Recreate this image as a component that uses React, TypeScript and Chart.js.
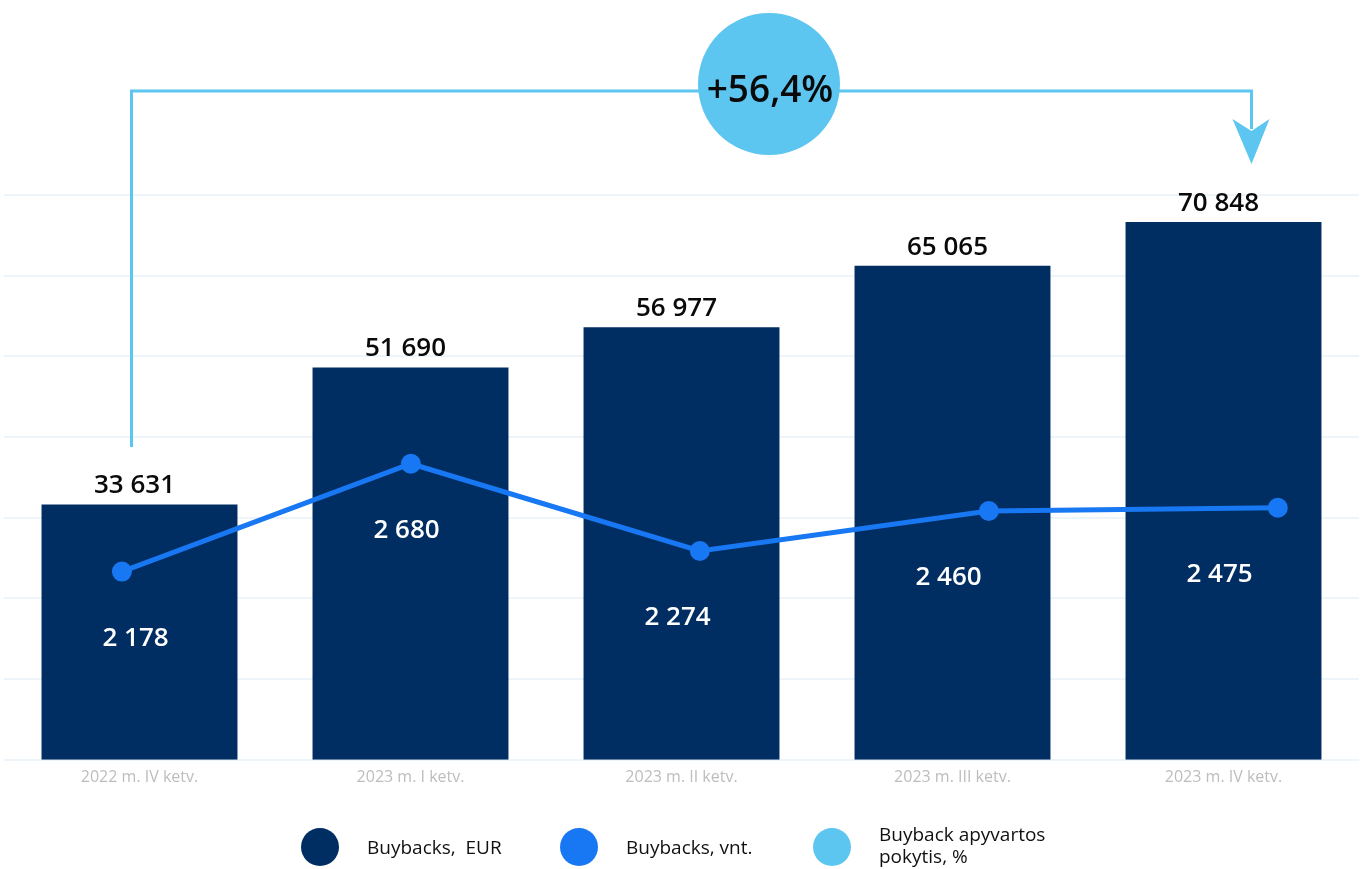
import React, { useEffect, useRef } from "react";
import { Chart, registerables } from "chart.js";

Chart.register(...registerables);

// ---- data ----
const categories = [
  "2022 m. IV ketv.",
  "2023 m. I ketv.",
  "2023 m. II ketv.",
  "2023 m. III ketv.",
  "2023 m. IV ketv.",
];
const buybacksEur = [33631, 51690, 56977, 65065, 70848];
const buybacksVnt = [2178, 2680, 2274, 2460, 2475];
const changeLabel = "+56,4%";
const legendEur = "Buybacks,  EUR";
const legendVnt = "Buybacks, vnt.";
const legendChange = ["Buyback apyvartos", "pokytis, %"];

// ---- styles ----
const NAVY = "#002D62";
const BLUE = "#1877F2";
const SKY = "#5CC5F0";
const GRID = "#EDF4FA";
const FONT = '"Open Sans", "Noto Sans", sans-serif';

const fmt = (v: number) => String(v).replace(/\B(?=(\d{3})+(?!\d))/g, " ");

const decor = {
  id: "decor",
  afterDatasetsDraw(chart: any) {
    const ctx = chart.ctx as CanvasRenderingContext2D;
    const lineMeta = chart.getDatasetMeta(0);
    const barMeta = chart.getDatasetMeta(1);
    ctx.save();
    ctx.textAlign = "center";
    ctx.textBaseline = "alphabetic";
    ctx.font = `600 26px ${FONT}`;
    barMeta.data.forEach((bar: any, i: number) => {
      ctx.fillStyle = "#0a0a0a";
      ctx.fillText(fmt(buybacksEur[i]), bar.x - 5, bar.y - 11);
      const pt = lineMeta.data[i];
      ctx.fillStyle = "#ffffff";
      ctx.fillText(fmt(buybacksVnt[i]), bar.x - 4, pt.y + 74);
    });

    // bracket with arrow
    const xs = chart.scales.x;
    const xL = xs.getPixelForValue(0) - 8;
    const xR = xs.getPixelForValue(categories.length - 1) + 28;
    const top = chart.chartArea.top;
    const yTop = top - 104;
    const yBottom = top + 252;
    ctx.strokeStyle = SKY;
    ctx.lineWidth = 3;
    ctx.beginPath();
    ctx.moveTo(xL, yBottom);
    ctx.lineTo(xL, yTop);
    ctx.lineTo(xR, yTop);
    ctx.lineTo(xR, yTop + 38);
    ctx.stroke();
    ctx.fillStyle = SKY;
    ctx.beginPath();
    ctx.moveTo(xR - 19, yTop + 28);
    ctx.lineTo(xR, yTop + 40);
    ctx.lineTo(xR + 18, yTop + 28);
    ctx.lineTo(xR, yTop + 73);
    ctx.closePath();
    ctx.fill();

    // circle badge
    const cx = 769;
    const cy = yTop - 7;
    ctx.beginPath();
    ctx.arc(cx, cy, 71, 0, Math.PI * 2);
    ctx.fill();
    ctx.fillStyle = "#0a0a0a";
    ctx.font = `600 37px ${FONT}`;
    ctx.fillText(changeLabel, cx + 1, cy + 18);

    // legend
    const items = [
      { c: NAVY, x: 320, t: [legendEur] },
      { c: BLUE, x: 579, t: [legendVnt] },
      { c: SKY, x: 832, t: legendChange },
    ];
    const ly = 847;
    ctx.textAlign = "left";
    ctx.font = `400 19px ${FONT}`;
    items.forEach((it) => {
      ctx.fillStyle = it.c;
      ctx.beginPath();
      ctx.arc(it.x, ly, 19, 0, Math.PI * 2);
      ctx.fill();
      ctx.fillStyle = "#111111";
      if (it.t.length === 1) {
        ctx.fillText(it.t[0], it.x + 47, ly + 7);
      } else {
        ctx.fillText(it.t[0], it.x + 47, ly - 6);
        ctx.fillText(it.t[1], it.x + 47, ly + 16);
      }
    });
    ctx.restore();
  },
};

export default function App() {
  const ref = useRef<HTMLCanvasElement | null>(null);
  useEffect(() => {
    if (!ref.current) return;
    const chart = new Chart(ref.current, {
      type: "bar",
      data: {
        labels: categories,
        datasets: [
          {
            type: "line",
            label: legendVnt,
            data: buybacksVnt.map((v, i) => ({ x: i, y: v })) as any,
            xAxisID: "x2",
            yAxisID: "y1",
            borderColor: BLUE,
            backgroundColor: BLUE,
            borderWidth: 5,
            pointRadius: 10,
            pointBackgroundColor: BLUE,
            pointBorderWidth: 0,
            tension: 0,
            order: 0,
          } as any,
          {
            type: "bar",
            label: legendEur,
            data: buybacksEur,
            xAxisID: "x",
            yAxisID: "y",
            backgroundColor: NAVY,
            barPercentage: 0.723,
            categoryPercentage: 1,
            grouped: false,
            order: 1,
          } as any,
        ],
      },
      options: {
        animation: false,
        responsive: true,
        maintainAspectRatio: false,
        layout: {
          autoPadding: false,
          padding: { left: 4, right: 13, top: 195, bottom: 74 },
        },
        plugins: { legend: { display: false }, tooltip: { enabled: false } },
        scales: {
          x: {
            type: "category",
            offset: true,
            grid: { display: false, drawTicks: false },
            border: { display: false },
            ticks: {
              color: "#bdbdbd",
              font: { family: FONT, size: 16 },
              padding: 8,
              maxRotation: 0,
              autoSkip: false,
            },
            afterFit: (s: any) => {
              s.paddingLeft = 0;
              s.paddingRight = 0;
            },
          },
          x2: {
            type: "linear",
            display: false,
            offset: false,
            grid: { offset: false },
            min: -0.408,
            max: 4.281,
          },
          y: { type: "linear", display: false, min: 0, max: 74400 },
          y1: { type: "linear", display: false, min: 1302, max: 3931 },
          g: {
            type: "linear",
            position: "left",
            min: 0,
            max: 7,
            ticks: { display: false, stepSize: 1, padding: 0 },
            grid: { color: GRID, lineWidth: 2, drawTicks: false },
            border: { display: false },
            afterFit: (s: any) => {
              s.width = 0;
            },
          },
        } as any,
      },
      plugins: [decor],
    });
    return () => chart.destroy();
  }, []);
  return (
    <div style={{ width: 1372, height: 869, position: "relative" }}>
      <style>{"body{margin:0;overflow:hidden}"}</style>
      <canvas ref={ref} />
    </div>
  );
}
